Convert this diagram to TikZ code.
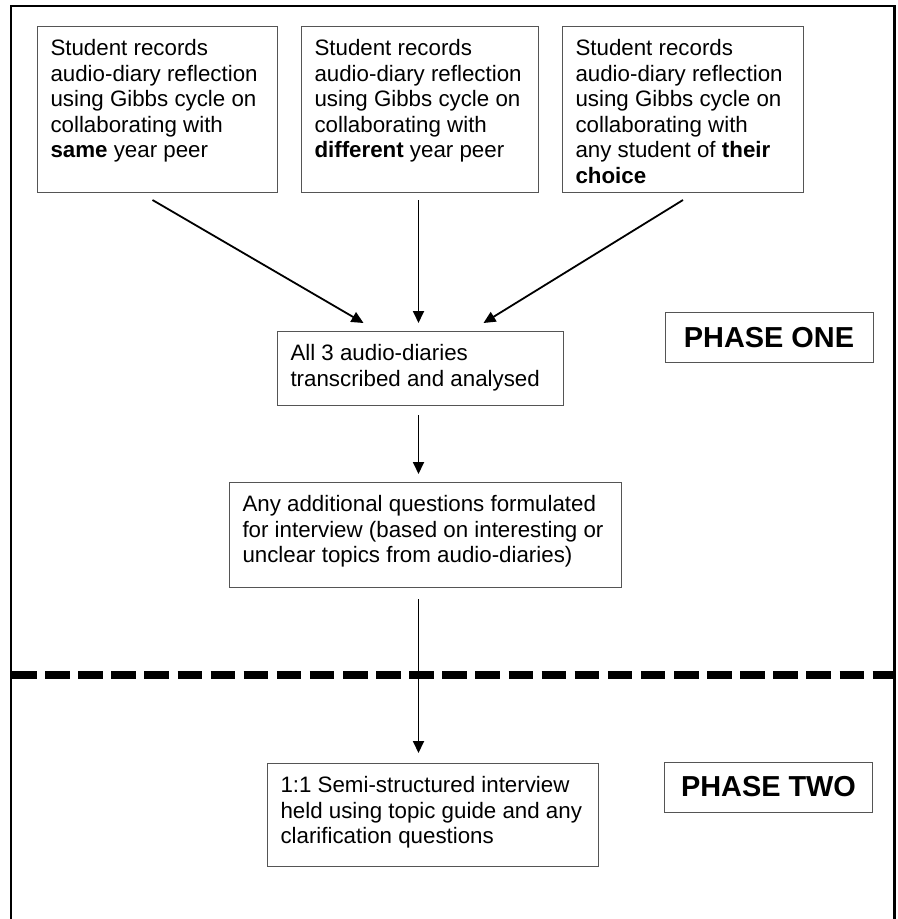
\documentclass[tikz,border=0pt]{standalone}
\usepackage{fontspec}
\setmainfont{Liberation Sans}
\usepackage{xcolor}
\usepackage{tikz}
\usetikzlibrary{calc,arrows.meta}
\definecolor{edge}{HTML}{555555}
\newcommand{\BoxFont}{\fontsize{22.4}{25.6}\selectfont}
\newcommand{\PhaseFont}{\fontsize{29}{34}\selectfont\bfseries}
\newcommand{\BoxText}[3]{\parbox[t][#2][t]{#1}{\BoxFont\raggedright #3}}

\begin{document}
\begin{tikzpicture}[x=1bp,y=-1bp,
    stepbox/.style={draw=edge,line width=1bp,inner xsep=13bp,inner ysep=13bp,anchor=north west},
    phasebox/.style={draw=edge,line width=1bp,minimum width=208bp,minimum height=50bp,inner sep=0pt},
    flow/.style={line width=1.8bp,-{Triangle[length=12bp,width=11bp]}}]
          \useasboundingbox (0,0) rectangle (898,919);
          \draw[line width=2.5bp] (11,925) -- (11,6) -- (894.5,6) -- (894.5,925);
          \draw[line width=8bp,dash pattern=on 24.5bp off 8.6bp] (12,675) -- (895,675);
          \coordinate (spine) at (418.5,0);
          \node[stepbox] (same) at (37,26) {\BoxText{214bp}{140bp}{Student records\\ audio-diary reflection\\ using Gibbs cycle on\\ collaborating with\\ \textbf{same} year peer}};
          \node[stepbox] (different) at (301,26) {\BoxText{211bp}{140bp}{Student records\\ audio-diary reflection\\ using Gibbs cycle on\\ collaborating with\\ \textbf{different} year peer}};
          \node[stepbox] (choice) at (562,26) {\BoxText{215bp}{140bp}{Student records\\ audio-diary reflection\\ using Gibbs cycle on\\ collaborating with\\ any student of \textbf{their}\\ \textbf{choice}}};
          \node[stepbox] (diaries) at (277,331) {\BoxText{260bp}{48bp}{All 3 audio-diaries\\ transcribed and analysed}};
          \node[stepbox] (questions) at (229,482) {\BoxText{366bp}{79bp}{Any additional questions formulated\\ for interview (based on interesting or\\ unclear topics from audio-diaries)}};
          \node[stepbox] (interview) at (267,763) {\BoxText{305bp}{77bp}{1:1 Semi-structured interview\\ held using topic guide and any\\ clarification questions}};
          \node[phasebox] (one) at (769,337.5) {\PhaseFont PHASE ONE};
          \node[phasebox] (two) at (768.5,787) {\PhaseFont PHASE TWO};
          \draw[flow] ([xshift=-5bp,yshift=-7bp]same.south) -- ([xshift=-57bp,yshift=8bp]diaries.north);
          \draw[flow,shorten <=7bp,shorten >=8bp] (different.south -| spine) -- (diaries.north -| spine);
          \draw[flow] ([xshift=0bp,yshift=-7bp]choice.south) -- ([xshift=63bp,yshift=8bp]diaries.north);
          \draw[flow,shorten <=9bp,shorten >=8bp] (diaries.south -| spine) -- (questions.north -| spine);
          \draw[flow,shorten <=11bp,shorten >=10bp] (questions.south -| spine) -- (interview.north -| spine);
        \end{tikzpicture}
\end{document}
